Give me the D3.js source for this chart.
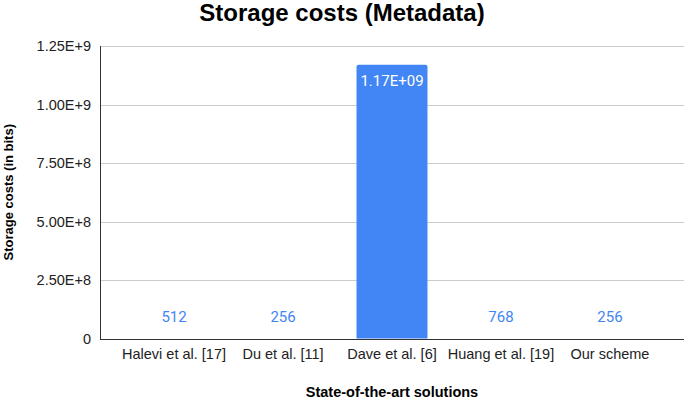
<!DOCTYPE html>
<html><head><meta charset="utf-8">
<script src="https://cdn.jsdelivr.net/npm/d3@7"></script>
<style>body{margin:0;background:#fff}svg{display:block}</style>
</head><body>
<script>
const categories = ["Halevi et al. [17]", "Du et al. [11]", "Dave et al. [6]", "Huang et al. [19]", "Our scheme"];
const values = [512, 256, 1.17e9, 768, 256];
const valueLabels = ["512", "256", "1.17E+09", "768", "256"];
const yTicks = [0, 2.5e8, 5e8, 7.5e8, 1e9, 1.25e9];
const yTickLabels = ["0", "2.50E+8", "5.00E+8", "7.50E+8", "1.00E+9", "1.25E+9"];

const W = 685, H = 399;
const m = {left: 100, right: 1, top: 46, bottom: 60.5};
const svg = d3.select("body").append("svg").attr("width", W).attr("height", H);

const x = d3.scaleBand().domain(categories).range([m.left, W - m.right]).paddingOuter(0.354).paddingInner(0.349);
const y = d3.scaleLinear().domain([0, 1.25e9]).range([H - m.bottom, m.top]);

svg.append("text").attr("x", 342).attr("y", 21).attr("text-anchor", "middle")
  .attr("font-family", "Liberation Sans, Arial, sans-serif").attr("font-weight", "bold").attr("font-size", 24)
  .attr("fill", "#000").text("Storage costs (Metadata)");

// gridlines
svg.append("g").selectAll("line").data(yTicks.slice(1)).join("line")
  .attr("x1", m.left).attr("x2", W - m.right)
  .attr("y1", d => Math.round(y(d)) + 0.5).attr("y2", d => Math.round(y(d)) + 0.5)
  .attr("stroke", "#cccccc").attr("stroke-width", 1);

// y tick labels
svg.append("g").selectAll("text").data(yTicks).join("text")
  .attr("x", m.left - 9).attr("y", d => y(d)).attr("dy", "0.35em")
  .attr("text-anchor", "end").attr("font-family", "Liberation Sans, Arial, sans-serif")
  .attr("font-size", 14.5).attr("fill", "#222").text((d, i) => yTickLabels[i]);

// bars
const bw = x.bandwidth();
svg.append("g").selectAll("path").data(values).join("path")
  .attr("d", (d, i) => {
    const x0 = x(categories[i]), y0 = y(d), y1 = y(0), r = Math.min(2, (y1 - y0));
    return `M${x0},${y1}V${y0 + r}Q${x0},${y0} ${x0 + r},${y0}H${x0 + bw - r}Q${x0 + bw},${y0} ${x0 + bw},${y0 + r}V${y1}Z`;
  })
  .attr("fill", "#4285f4");

// value labels
svg.append("g").selectAll("text").data(values).join("text")
  .attr("x", (d, i) => x(categories[i]) + bw/2)
  .attr("y", d => d > 1e8 ? y(d) + 16 : y(d) - 22)
  .attr("dy", "0.35em")
  .attr("text-anchor", "middle").attr("font-family", "Roboto, sans-serif").attr("font-size", 15)
  .attr("fill", d => d > 1e8 ? "#ffffff" : "#4285f4")
  .text((d, i) => valueLabels[i]);

// axes lines
svg.append("line").attr("x1", m.left + 0.5).attr("x2", m.left + 0.5).attr("y1", y(1.25e9)).attr("y2", y(0) + 1)
  .attr("stroke", "#333").attr("stroke-width", 1);
svg.append("line").attr("x1", m.left).attr("x2", W - m.right).attr("y1", Math.round(y(0)) + 0.5).attr("y2", Math.round(y(0)) + 0.5)
  .attr("stroke", "#333").attr("stroke-width", 1);

// x tick labels
svg.append("g").selectAll("text").data(categories).join("text")
  .attr("x", d => x(d) + bw/2).attr("y", y(0) + 15).attr("dy", "0.35em")
  .attr("text-anchor", "middle").attr("font-family", "Liberation Sans, Arial, sans-serif")
  .attr("font-size", 14.5).attr("fill", "#222").text(d => d);

// axis titles
svg.append("text").attr("x", x(categories[2]) + bw/2).attr("y", 397)
  .attr("text-anchor", "middle").attr("font-family", "Liberation Sans, Arial, sans-serif")
  .attr("font-weight", "bold").attr("font-size", 14.5).attr("fill", "#000").text("State-of-the-art solutions");
svg.append("text").attr("transform", `translate(13,${(y(0) + y(1.25e9))/2}) rotate(-90)`)
  .attr("text-anchor", "middle").attr("font-family", "Liberation Sans, Arial, sans-serif")
  .attr("font-weight", "bold").attr("font-size", 13).attr("fill", "#000").text("Storage costs (in bits)");
</script>
</body></html>
